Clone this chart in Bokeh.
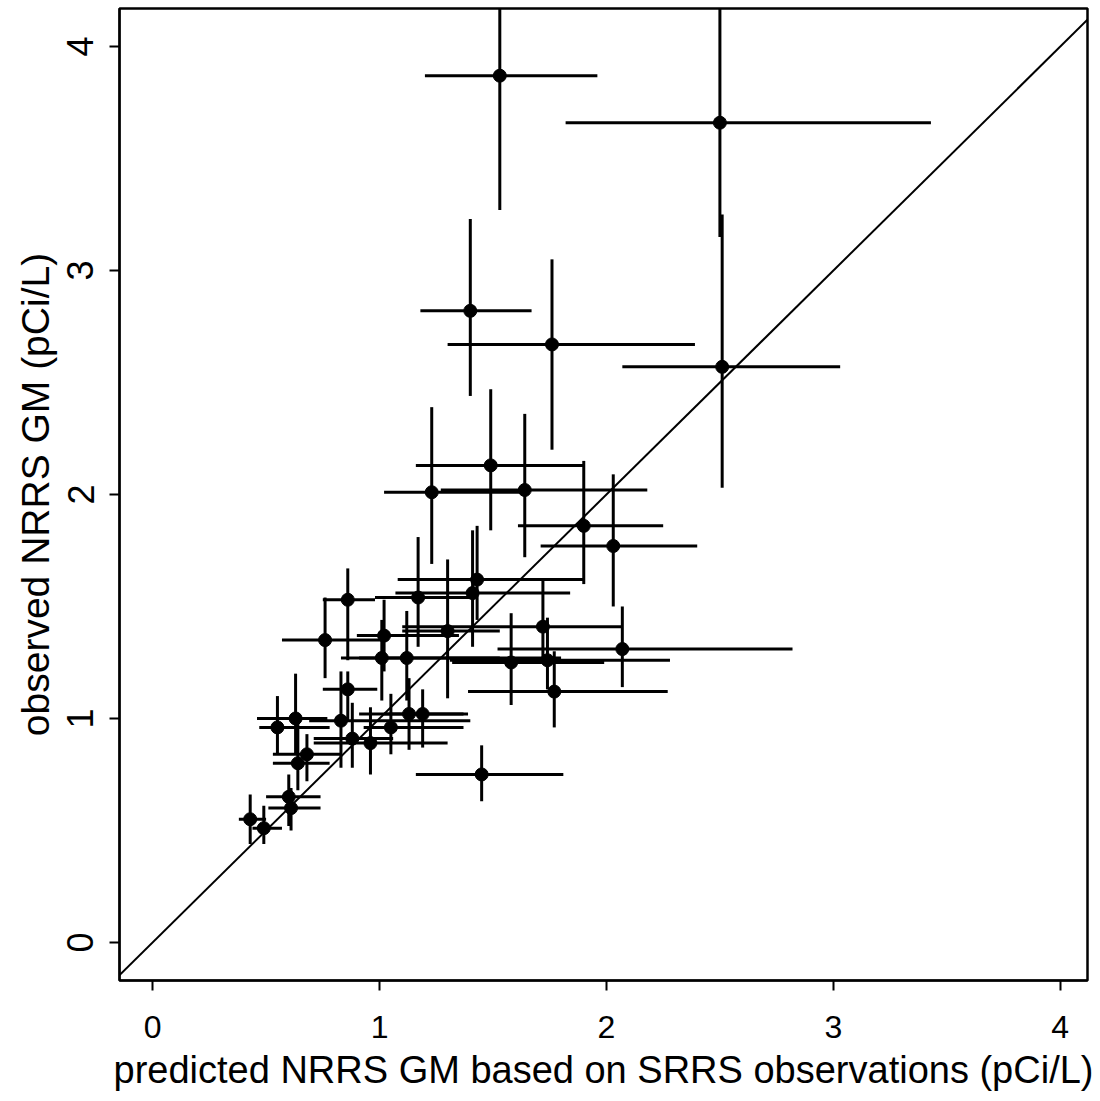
from bokeh.plotting import figure
from bokeh.models import Range1d, Slope, FixedTicker
from bokeh.embed import file_html
from bokeh.resources import INLINE

# predicted NRRS GM (x) with interval, observed NRRS GM (y) with interval
x_pred = [1.53, 2.50, 1.40, 1.76, 2.51, 1.49, 1.23, 1.64, 1.90, 2.03,
          1.43, 1.41, 1.17, 0.86, 0.76, 1.02, 1.01, 1.12, 1.30, 0.86,
          0.63, 0.55, 0.83, 0.88, 0.96, 1.05, 1.13, 1.19, 0.68, 0.64,
          0.60, 0.61, 0.43, 0.49, 1.45, 1.72, 2.07, 1.74, 1.58, 1.77]
x_lo = [1.20, 1.82, 1.18, 1.30, 2.07, 1.16, 1.02, 1.27, 1.61, 1.71,
        1.08, 1.07, 0.98, 0.75, 0.57, 0.90, 0.83, 0.91, 1.10, 0.75,
        0.46, 0.47, 0.69, 0.71, 0.71, 0.93, 0.91, 1.02, 0.53, 0.53,
        0.50, 0.51, 0.38, 0.44, 1.16, 1.10, 1.52, 1.31, 1.32, 1.39]
x_hi = [1.96, 3.43, 1.67, 2.39, 3.03, 1.90, 1.66, 2.18, 2.25, 2.40,
        1.90, 1.84, 1.40, 0.98, 1.03, 1.35, 1.80, 1.53, 1.53, 0.99,
        0.77, 0.78, 1.40, 1.06, 1.30, 1.37, 1.39, 1.37, 0.83, 0.78,
        0.74, 0.74, 0.50, 0.57, 1.81, 2.07, 2.82, 2.28, 1.99, 2.27]
y_obs = [3.87, 3.66, 2.82, 2.67, 2.57, 2.13, 2.01, 2.02, 1.86, 1.77,
         1.62, 1.56, 1.54, 1.53, 1.35, 1.37, 1.27, 1.27, 1.39, 1.13,
         1.00, 0.96, 0.99, 0.91, 0.89, 0.96, 1.02, 1.02, 0.84, 0.80,
         0.65, 0.60, 0.55, 0.51, 0.75, 1.41, 1.31, 1.26, 1.25, 1.12]
y_lo = [3.27, 3.15, 2.44, 2.20, 2.03, 1.84, 1.69, 1.72, 1.60, 1.50,
        1.44, 1.32, 1.32, 1.26, 1.18, 1.21, 1.08, 1.08, 1.09, 0.99,
        0.84, 0.84, 0.78, 0.78, 0.75, 0.84, 0.86, 0.87, 0.72, 0.68,
        0.52, 0.50, 0.44, 0.44, 0.63, 1.27, 1.14, 1.13, 1.06, 0.96]
y_hi = [4.50, 4.50, 3.23, 3.05, 3.25, 2.47, 2.39, 2.36, 2.15, 2.09,
        1.86, 1.84, 1.81, 1.67, 1.54, 1.53, 1.44, 1.48, 1.71, 1.21,
        1.20, 1.10, 1.21, 1.07, 1.05, 1.11, 1.18, 1.13, 0.93, 0.99,
        0.75, 0.69, 0.66, 0.61, 0.88, 1.62, 1.50, 1.45, 1.47, 1.30]

ticks = [0, 1, 2, 3, 4]

p = figure(width=1092, height=1099, output_backend="svg", toolbar_location=None,
           x_range=Range1d(-0.146, 4.12), y_range=Range1d(-0.17, 4.17),
           min_border_left=119, min_border_right=5, min_border_top=8,
           min_border_bottom=119)
p.background_fill_color = "white"
p.border_fill_color = "white"
p.grid.visible = False
p.outline_line_color = "black"
p.outline_line_width = 2.5

# identity line
p.add_layout(Slope(gradient=1, y_intercept=0, line_color="black", line_width=2))

# error bars
p.segment(x0=x_lo, y0=y_obs, x1=x_hi, y1=y_obs, line_color="black", line_width=3)
p.segment(x0=x_pred, y0=y_lo, x1=x_pred, y1=y_hi, line_color="black", line_width=3)
p.scatter(x_pred, y_obs, size=13, marker="circle", fill_color="black", line_color="black")

font = "Liberation Sans"
for ax in (p.xaxis[0], p.yaxis[0]):
    ax.ticker = FixedTicker(ticks=ticks)
    ax.minor_tick_line_color = None
    ax.major_tick_out = 10
    ax.major_tick_in = 0
    ax.major_tick_line_width = 2
    ax.axis_line_width = 2
    ax.major_label_text_font = font
    ax.major_label_text_color = "black"
    ax.axis_label_text_font = font
    ax.axis_label_text_font_style = "normal"
    ax.axis_label_text_color = "black"

p.xaxis.axis_label = "predicted NRRS GM based on SRRS observations (pCi/L)"
p.xaxis.major_label_text_font_size = "32px"
p.xaxis.axis_label_text_font_size = "38px"
p.xaxis.major_label_standoff = 25
p.xaxis.axis_label_standoff = 8

p.yaxis.axis_label = "observed NRRS GM (pCi/L)"
p.yaxis.major_label_orientation = "vertical"
p.yaxis.major_label_text_font_size = "36px"
p.yaxis.axis_label_text_font_size = "39px"
p.yaxis.major_label_standoff = 16
p.yaxis.axis_label_standoff = 8

open("out.html", "w").write(file_html(p, INLINE))
